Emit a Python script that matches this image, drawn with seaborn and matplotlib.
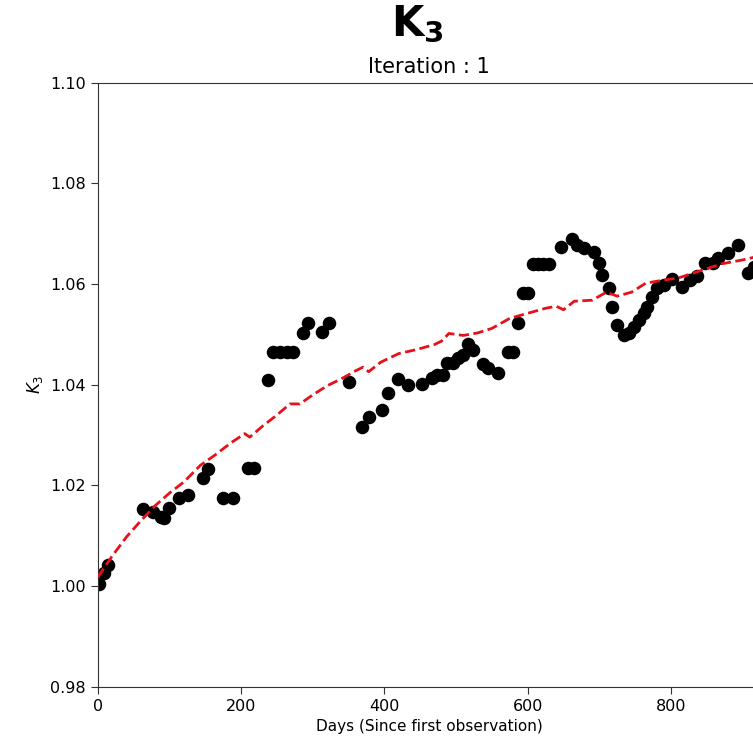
#!/usr/bin/env python3

# import packages
import numpy as np
import pandas as pd
import seaborn as sns
import matplotlib.pyplot as plt

# observed K3 values (days since first observation)
obs_days = [1, 8, 14, 63, 77, 88, 92, 99, 113, 126, 147, 154, 175, 189, 210, 218,
            238, 245, 254, 264, 273, 287, 293, 313, 322, 350, 369, 378, 397, 405,
            419, 433, 453, 467, 474, 482, 488, 496, 503, 510, 516, 524, 538, 544,
            559, 572, 579, 587, 594, 600, 607, 614, 622, 630, 646, 662, 669, 678,
            692, 699, 704, 713, 718, 725, 734, 741, 748, 755, 762, 767, 774, 781,
            790, 802, 816, 827, 837, 848, 858, 865, 879, 893, 907, 916]
obs_k3 = [1.0004, 1.0026, 1.0042, 1.0153, 1.0147, 1.0138, 1.0135, 1.0155, 1.0175,
          1.0181, 1.0215, 1.0232, 1.0175, 1.0175, 1.0234, 1.0234, 1.0409, 1.0466,
          1.0466, 1.0466, 1.0466, 1.0503, 1.0523, 1.0505, 1.0523, 1.0405, 1.0316,
          1.0336, 1.0350, 1.0383, 1.0412, 1.0400, 1.0401, 1.0413, 1.0419, 1.0419,
          1.0443, 1.0443, 1.0453, 1.0459, 1.0481, 1.0469, 1.0441, 1.0433, 1.0423,
          1.0465, 1.0465, 1.0523, 1.0582, 1.0582, 1.0640, 1.0640, 1.0640, 1.0640,
          1.0674, 1.0690, 1.0678, 1.0672, 1.0664, 1.0642, 1.0618, 1.0592, 1.0554,
          1.0518, 1.0499, 1.0503, 1.0515, 1.0529, 1.0542, 1.0554, 1.0574, 1.0592,
          1.0598, 1.0610, 1.0594, 1.0608, 1.0616, 1.0642, 1.0642, 1.0652, 1.0662,
          1.0678, 1.0622, 1.0634]

# model curve (red dashed)
fit_days = [0, 20, 40, 60, 80, 100, 120, 143, 165, 185, 205, 212, 230, 250, 268,
            282, 300, 320, 340, 360, 370, 378, 395, 420, 445, 470, 480, 490, 510,
            530, 550, 575, 600, 625, 640, 650, 665, 690, 710, 725, 745, 765, 790,
            810, 840, 870, 900, 930]
fit_k3 = [1.0018, 1.0060, 1.0098, 1.0130, 1.0160, 1.0185, 1.0207, 1.0240, 1.0262,
          1.0284, 1.0303, 1.0296, 1.0318, 1.0340, 1.0362, 1.0362, 1.0380, 1.0398,
          1.0412, 1.0428, 1.0435, 1.0426, 1.0445, 1.0462, 1.0470, 1.0480, 1.0487,
          1.0502, 1.0498, 1.0503, 1.0512, 1.0532, 1.0542, 1.0552, 1.0556, 1.0549,
          1.0566, 1.0568, 1.0584, 1.0576, 1.0584, 1.0602, 1.0608, 1.0612, 1.0626,
          1.0640, 1.0648, 1.0658]

obs = pd.DataFrame({'days': obs_days, 'k3': obs_k3})
fit = pd.DataFrame({'days': fit_days, 'k3': fit_k3})

sns.set_style('ticks')
plt.rcParams['font.family'] = ['DejaVu Sans']
for key in ['text.color', 'axes.labelcolor', 'xtick.color', 'ytick.color']:
    plt.rcParams[key] = 'black'

fig = plt.figure(figsize=(7.53, 7.45), dpi=100)
ax = fig.add_axes([0.130, 0.078, 0.880, 0.811])

sns.scatterplot(data=obs, x='days', y='k3', color='black', s=95, linewidth=0,
                ax=ax, zorder=2)
sns.lineplot(data=fit, x='days', y='k3', color='#e8101a', linestyle='--',
             linewidth=2, ax=ax, zorder=3)

ax.set_xlim(0, 925)
ax.set_ylim(0.98, 1.10)
ax.set_xticks([0, 200, 400, 600, 800])
ax.set_yticks(np.round(np.arange(0.98, 1.101, 0.02), 2))
ax.set_yticklabels(['%.2f' % v for v in np.arange(0.98, 1.101, 0.02)])
ax.tick_params(labelsize=11.5, length=5, color='#333333')
ax.set_xlabel('Days (Since first observation)', fontsize=11)
ax.set_ylabel('$K_3$', fontsize=12)
ax.set_title('Iteration : 1', fontsize=15, pad=7)
for s in ax.spines.values():
    s.set_color('#333333')

fig.text(0.554, 0.968, r'$\mathbf{K_3}$', fontsize=30, ha='center', va='center')

plt.savefig('out.png', dpi=100)
